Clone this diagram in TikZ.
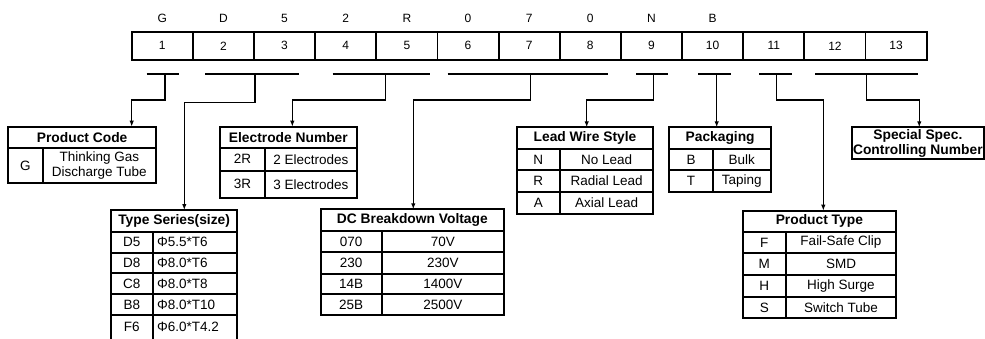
\documentclass[tikz,border=0pt]{standalone}
\usepackage{fontspec}
\setmainfont{Liberation Sans}
\usetikzlibrary{arrows.meta}
\newcommand\tcellbox[7]{\node[#2, minimum width={(#5-#3)*1pt}, minimum height={(#6-#4)*1pt}, anchor=north west] (#1) at (#3,#4) {#7};}
\newcommand\trow[9]{%
  \tcellbox{#1c}{tcell}{#2}{#5}{#3}{#6}{#7}%
  \tcellbox{#1v}{#9}{#3}{#5}{#4}{#6}{#8}}
\begin{document}
\begin{tikzpicture}[x=1pt,y=-1pt,
  cellbox/.style={draw, line width=1.8pt, inner sep=0pt, outer sep=0pt, align=center},
  tcell/.style={cellbox, font=\fontsize{13.5}{15}\selectfont},
  hcell/.style={cellbox, font=\bfseries\fontsize{13.8}{15}\selectfont},
  tsv/.style={tcell, text width=76pt, align=left},
  topcell/.style={draw, line width=1.8pt, minimum width=61.15pt, minimum height=28.3pt, inner sep=0pt, outer sep=0pt, font=\fontsize{12}{14}\selectfont, anchor=north west},
  letter/.style={font=\fontsize{12}{14}\selectfont},
  bar/.style={line width=1.2pt},
  conn/.style={line width=1.2pt},
  arr/.style={conn, -{Latex[length=6pt,width=4.5pt]}}]
\useasboundingbox (0,0) rectangle (985,338);

% top code row
\foreach \i in {1,...,13}
  \node[topcell] (c\i) at ({131.7+(\i-1)*61.15},31.7) {\i};
\foreach \i/\l in {1/G,2/D,3/5,4/2,5/R,6/0,7/7,8/0,9/N,10/B}
  \node[letter] (l\i) at ({131.7+(\i-0.5)*61.15},18.3) {\l};

% bars
\foreach \n/\a/\b/\m in {1/146.7/179/165, 2/205/299.3/255, 3/332.7/430/385.7, 4/447.7/607.7/530.7,
                         5/636/668.3/653.3, 6/698.3/730.7/716.7, 7/759.3/791.7/776.7, 8/815/917.7/866.7}{
  \coordinate (b\n l) at (\a,74);
  \coordinate (b\n r) at (\b,74);
  \coordinate (b\n m) at (\m,74);
  \draw[bar] (b\n l) -- (b\n r);
}

% tables
% Product Code
\tcellbox{pc}{hcell}{8.3}{126.7}{156}{148.3}{Product Code}
\trow{pc1}{8.3}{42.7}{156}{148.3}{183.3}{G}{Thinking Gas\\Discharge Tube}{tcell}

% Type Series
\tcellbox{ts}{hcell}{111}{210}{237.3}{231.7}{Type Series(size)}
\trow{ts1}{111}{152.7}{237.3}{231.7}{252.7}{D5}{Φ5.5*T6}{tsv}
\trow{ts2}{111}{152.7}{237.3}{252.7}{273.3}{D8}{Φ8.0*T6}{tsv}
\trow{ts3}{111}{152.7}{237.3}{273.3}{294}{C8}{Φ8.0*T8}{tsv}
\trow{ts4}{111}{152.7}{237.3}{294}{315}{B8}{Φ8.0*T10}{tsv}
\trow{ts5}{111}{152.7}{237.3}{315}{339.5}{F6}{Φ6.0*T4.2}{tsv}

% Electrode Number
\tcellbox{el}{hcell}{220}{126.7}{356.7}{147.7}{Electrode Number}
\trow{el1}{220}{265}{356.7}{147.7}{170.7}{2R}{2 Electrodes}{tcell}
\trow{el2}{220}{265}{356.7}{170.7}{197.7}{3R}{3 Electrodes}{tcell}

% DC Breakdown Voltage
\tcellbox{dc}{hcell}{320.7}{209.3}{504}{230.7}{DC Breakdown Voltage}
\trow{dc1}{320.7}{381.7}{504}{230.7}{252.3}{070}{70V}{tcell}
\trow{dc2}{320.7}{381.7}{504}{252.3}{274}{230}{230V}{tcell}
\trow{dc3}{320.7}{381.7}{504}{274}{294}{14B}{1400V}{tcell}
\trow{dc4}{320.7}{381.7}{504}{294}{315}{25B}{2500V}{tcell}

% Lead Wire Style
\tcellbox{lw}{hcell}{516.7}{127.3}{653.3}{149.3}{Lead Wire Style}
\trow{lw1}{516.7}{560}{653.3}{149.3}{170}{N}{No Lead}{tcell}
\trow{lw2}{516.7}{560}{653.3}{170}{191.7}{R}{Radial Lead}{tcell}
\trow{lw3}{516.7}{560}{653.3}{191.7}{214}{A}{Axial Lead}{tcell}

% Packaging
\tcellbox{pk}{hcell}{669.3}{127.3}{771}{149}{Packaging}
\trow{pk1}{669.3}{712.7}{771}{149}{170}{B}{Bulk}{tcell}
\trow{pk2}{669.3}{712.7}{771}{170}{191.7}{T}{Taping}{tcell}

% Special Spec
\tcellbox{ss}{hcell}{851.7}{127.3}{984}{159.3}{Special Spec.\\Controlling Number}

% Product Type
\tcellbox{pt}{hcell}{742.7}{210.7}{896}{231.7}{Product Type}
\trow{pt1}{742.7}{786}{896}{231.7}{253.3}{F}{Fail-Safe Clip}{tcell}
\trow{pt2}{742.7}{786}{896}{253.3}{275}{M}{SMD}{tcell}
\trow{pt3}{742.7}{786}{896}{275}{296.7}{H}{High Surge}{tcell}
\trow{pt4}{742.7}{786}{896}{296.7}{318.3}{S}{Switch Tube}{tcell}

% connector turning points
\coordinate (k1) at (131.7,100);
\coordinate (k2) at (184.3,102.7);
\coordinate (k3) at (292.3,100);
\coordinate (k4) at (413.3,100);
\coordinate (k5) at (586.7,100);
\coordinate (k7) at (823.3,100);
\coordinate (k8) at (919.3,100);

\draw[arr] (b1m) -- (b1m |- k1) -- (k1) -- (k1 |- pc.north);
\draw[arr] (b2m) -- (b2m |- k2) -- (k2) -- (k2 |- ts.north);
\draw[arr] (b3m) -- (b3m |- k3) -- (k3) -- (k3 |- el.north);
\draw[arr] (b4m) -- (b4m |- k4) -- (k4) -- (k4 |- dc.north);
\draw[arr] (b5m) -- (b5m |- k5) -- (k5) -- (k5 |- lw.north);
\draw[arr] (b6m) -- (b6m |- pk.north);
\draw[arr] (b7m) -- (b7m |- k7) -- (k7) -- (k7 |- pt.north);
\draw[arr] (b8m) -- (b8m |- k8) -- (k8) -- (k8 |- ss.north);
\end{tikzpicture}
\end{document}
